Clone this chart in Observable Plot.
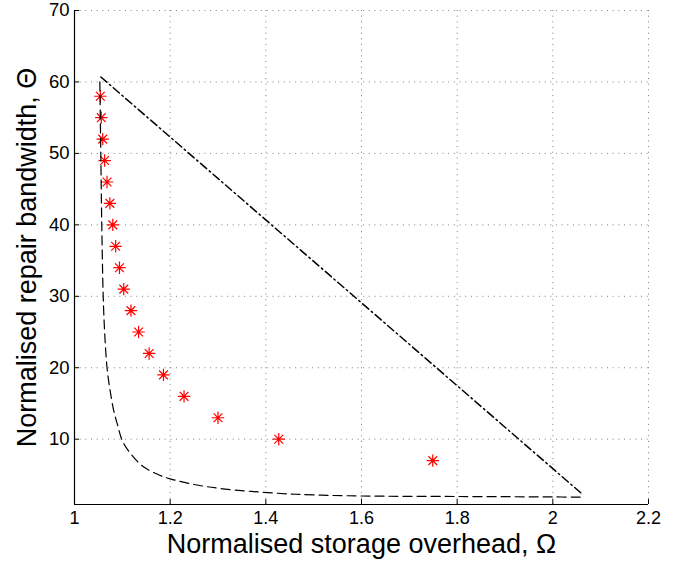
<!DOCTYPE html>
<html>
<head>
<meta charset="utf-8">
<script src="https://cdn.jsdelivr.net/npm/d3@7"></script>
<script src="https://cdn.jsdelivr.net/npm/@observablehq/plot@0.6"></script>
<style>
  html, body { margin: 0; padding: 0; background: #fff; }
</style>
</head>
<body>
<div id="chart"></div>
<script>
// Axis domains and ticks
const xDomain = [1, 2.2];
const yDomain = [0.86, 70];
const xTicks = [1, 1.2, 1.4, 1.6, 1.8, 2, 2.2];
const yTicks = [10, 20, 30, 40, 50, 60, 70];
const xLabel = "Normalised storage overhead, \u03A9";
const yLabel = "Normalised repair bandwidth, \u0398";

// Red asterisk points
const ptX = [1.054, 1.056, 1.059, 1.063, 1.068, 1.074, 1.080, 1.086, 1.094, 1.103, 1.118, 1.134, 1.156, 1.186, 1.229, 1.300, 1.427, 1.749];
const ptY = [58, 55, 52, 49, 46, 43, 40, 37, 34, 31, 28, 25, 22, 19, 16, 13, 10, 7];

// Dashed lower bound curve
const lowX = [1.053, 1.055, 1.057, 1.060, 1.063, 1.068, 1.074, 1.082, 1.090, 1.100, 1.117, 1.145, 1.180, 1.200, 1.250, 1.310, 1.420, 1.500, 1.600, 1.800, 2.000, 2.064];
const lowY = [60, 50, 40, 30, 25, 20, 17, 14, 12, 9.8, 8.0, 6.1, 4.9, 4.45, 3.66, 3.06, 2.45, 2.2, 2.05, 1.98, 1.92, 1.88];

// Dash-dot upper line
const upX = [1.055, 2.060];
const upY = [60.7, 2.4];

const asterisk8 = {
  draw(context, size) {
    const r = Math.sqrt(size / Math.PI);
    const d = r * Math.SQRT1_2;
    context.moveTo(-r, 0); context.lineTo(r, 0);
    context.moveTo(0, -r); context.lineTo(0, r);
    context.moveTo(-d, -d); context.lineTo(d, d);
    context.moveTo(-d, d); context.lineTo(d, -d);
  }
};

const font = "'Liberation Sans', Arial, Helvetica, sans-serif";

const chart = Plot.plot({
  width: 694,
  height: 561,
  marginLeft: 74,
  marginRight: 46,
  marginTop: 10,
  marginBottom: 57,
  style: { fontFamily: font, background: "#fff", color: "#000" },
  x: { domain: xDomain },
  y: { domain: yDomain },
  marks: [
    Plot.gridX(xTicks, { stroke: "#000", strokeOpacity: 0.5, strokeDasharray: "1,4.67", strokeWidth: 1 }),
    Plot.gridY(yTicks, { stroke: "#000", strokeOpacity: 0.5, strokeDasharray: "1,4.67", strokeWidth: 1 }),
    Plot.ruleY([yDomain[0]], { stroke: "#000", strokeWidth: 1.2 }),
    Plot.ruleX([xDomain[0]], { stroke: "#000", strokeWidth: 1.2 }),
    Plot.axisX(xTicks, { tickSize: -5, tickPadding: 12, fontSize: 18, label: null, tickFormat: d => String(d) }),
    Plot.axisY(yTicks, { tickSize: -5, tickPadding: 10, fontSize: 18.5, label: null, tickFormat: d => String(d) }),
    Plot.dot(ptX, { x: ptX, y: ptY, symbol: asterisk8, r: 6.2, stroke: "#ff0000", strokeWidth: 1.2, fill: "none" }),
    Plot.line(lowX, { x: lowX, y: lowY, curve: "catmull-rom", stroke: "#000", strokeWidth: 1.2, strokeDasharray: "9,5" }),
    Plot.line(upX, { x: upX, y: upY, stroke: "#000", strokeWidth: 1.5, strokeDasharray: "8,3.5,1.5,3.5" }),
    Plot.text([xLabel], { frameAnchor: "bottom", dy: 48, lineAnchor: "bottom", textAnchor: "middle", fontSize: 27, fill: "#000" }),
    Plot.text([yLabel], { frameAnchor: "left", dx: -47, rotate: -90, lineAnchor: "middle", textAnchor: "middle", fontSize: 27, fill: "#000" })
  ]
});
document.getElementById("chart").appendChild(chart);
</script>
</body>
</html>
